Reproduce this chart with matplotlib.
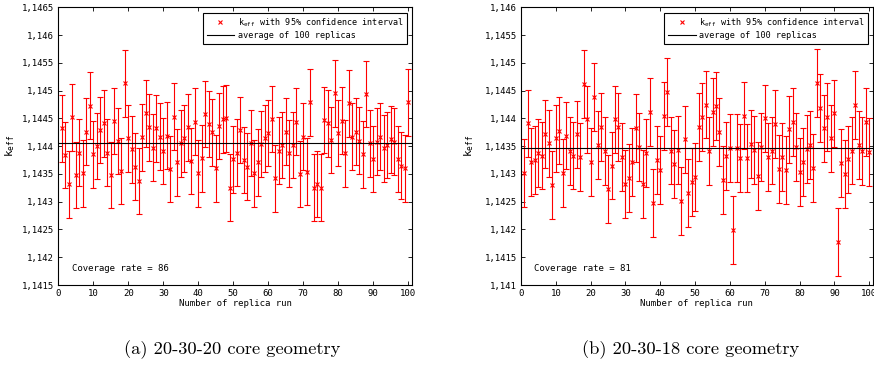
import matplotlib
matplotlib.use("Agg")
import matplotlib.pyplot as plt
from matplotlib.ticker import FuncFormatter, MultipleLocator
from matplotlib.lines import Line2D

# replica index
runs = list(range(1, 101))

# (a) 20-30-20 core geometry
keff_a = [1.14432, 1.14384, 1.14331, 1.14452, 1.14348, 1.14388, 1.14351, 1.14426, 1.14473, 1.14385,
          1.14400, 1.14429, 1.14441, 1.14388, 1.14348, 1.14445, 1.14409, 1.14355, 1.14513, 1.14414,
          1.14394, 1.14363, 1.14337, 1.14416, 1.14459, 1.14434, 1.14397, 1.14432, 1.14417, 1.14391,
          1.14419, 1.14359, 1.14453, 1.14371, 1.14405, 1.14414, 1.14434, 1.14373, 1.14444, 1.14351,
          1.14378, 1.14458, 1.14440, 1.14425, 1.14360, 1.14436, 1.14448, 1.14450, 1.14325, 1.14376,
          1.14388, 1.14429, 1.14375, 1.14363, 1.14406, 1.14351, 1.14371, 1.14404, 1.14414, 1.14424,
          1.14449, 1.14342, 1.14392, 1.14402, 1.14426, 1.14387, 1.14402, 1.14444, 1.14350, 1.14417,
          1.14354, 1.14479, 1.14325, 1.14332, 1.14325, 1.14447, 1.14441, 1.14411, 1.14495, 1.14424,
          1.14446, 1.14387, 1.14477, 1.14417, 1.14426, 1.14410, 1.14385, 1.14494, 1.14405, 1.14377,
          1.14408, 1.14417, 1.14396, 1.14402, 1.14412, 1.14408, 1.14377, 1.14365, 1.14360, 1.14479]
err_a = 0.0006
avg_a = 1.14406
cov_a = 86

# (b) 20-30-18 core geometry
keff_b = [1.14302, 1.14391, 1.14322, 1.14325, 1.14338, 1.14333, 1.14372, 1.14355, 1.14280, 1.14364,
          1.14378, 1.14301, 1.14369, 1.14341, 1.14333, 1.14371, 1.14331, 1.14462, 1.14398, 1.14321,
          1.14439, 1.14352, 1.14385, 1.14341, 1.14273, 1.14315, 1.14398, 1.14385, 1.14331, 1.14282,
          1.14292, 1.14322, 1.14383, 1.14349, 1.14282, 1.14337, 1.14412, 1.14247, 1.14325, 1.14307,
          1.14404, 1.14448, 1.14342, 1.14318, 1.14343, 1.14251, 1.14362, 1.14266, 1.14286, 1.14295,
          1.14384, 1.14402, 1.14425, 1.14341, 1.14412, 1.14422, 1.14375, 1.14289, 1.14332, 1.14346,
          1.14199, 1.14347, 1.14328, 1.14405, 1.14328, 1.14354, 1.14343, 1.14296, 1.14349, 1.14400,
          1.14331, 1.14342, 1.14390, 1.14309, 1.14330, 1.14307, 1.14380, 1.14393, 1.14348, 1.14303,
          1.14322, 1.14345, 1.14352, 1.14311, 1.14464, 1.14419, 1.14382, 1.14402, 1.14364, 1.14409,
          1.14178, 1.14319, 1.14300, 1.14326, 1.14342, 1.14424, 1.14352, 1.14341, 1.14393, 1.14339]
err_b = 0.00061
avg_b = 1.14347
cov_b = 81

mono = "DejaVu Sans Mono"
fs = 6.5
plt.rcParams["mathtext.fontset"] = "dejavusans"

fig = plt.figure(figsize=(8.74, 3.67), dpi=100)


def comma(v, pos):
    return ("%g" % round(v, 5)).replace(".", ",")


def panel(rect, keff, err, avg, cov, ylim, ylab_x):
    ax = fig.add_axes(rect)
    ax.errorbar(runs, keff, yerr=err, fmt="none", ecolor="red", elinewidth=0.8,
                capsize=2.3, capthick=0.8)
    ax.plot(runs, keff, "x", color="red", markersize=3, markeredgewidth=0.8)
    ax.axhline(avg, color="black", linewidth=0.8)
    ax.set_xlim(0, 101)
    ax.set_ylim(*ylim)
    ax.xaxis.set_major_locator(MultipleLocator(10))
    ax.yaxis.set_major_locator(MultipleLocator(0.0005))
    ax.yaxis.set_major_formatter(FuncFormatter(comma))
    ax.tick_params(direction="in", length=3, width=0.6, top=True, right=True,
                   labelsize=fs, pad=3)
    for lab in ax.get_xticklabels() + ax.get_yticklabels():
        lab.set_fontfamily(mono)
    for s in ax.spines.values():
        s.set_linewidth(0.8)
    ax.set_xlabel("Number of replica run", fontsize=fs, fontfamily=mono)
    ax.xaxis.set_label_coords(0.5, -0.05)
    ax.set_ylabel(r"$\mathtt{k_{eff}}$", fontsize=fs + 1.5)
    ax.yaxis.set_label_coords(ylab_x, 0.5)
    ax.text(0.038, 0.061, "Coverage rate = %d" % cov, transform=ax.transAxes,
            fontsize=fs, fontfamily=mono, va="center", ha="left")
    handles = [Line2D([], [], color="red", marker="x", linestyle="none",
                      markersize=3, markeredgewidth=0.8),
               Line2D([], [], color="black", linewidth=0.8)]
    labels = [r"$\mathtt{k_{eff}}$ with 95% confidence interval",
              "average of 100 replicas"]
    leg = ax.legend(handles, labels, loc="upper right", bbox_to_anchor=(0.987, 0.98),
                    borderaxespad=0, fancybox=False, edgecolor="black", framealpha=1,
                    prop={"family": mono, "size": 6.1}, handlelength=3.3,
                    handletextpad=0.4, labelspacing=0.3, borderpad=0.4)
    leg.get_frame().set_linewidth(0.8)
    return ax


panel([0.0667, 0.2234, 0.4043, 0.7567], keff_a, err_a, avg_a, cov_a,
      (1.1415, 1.1465), -0.118)
panel([0.5961, 0.2234, 0.4024, 0.7567], keff_b, err_b, avg_b, cov_b,
      (1.141, 1.146), -0.128)

fig.text(232 / 874, 0.046, "(a) 20-30-20 core geometry", ha="center", va="center",
         fontsize=13.3, fontfamily=["cmr10", "DejaVu Serif"])
fig.text(691 / 874, 0.046, "(b) 20-30-18 core geometry", ha="center", va="center",
         fontsize=13.3, fontfamily=["cmr10", "DejaVu Serif"])

fig.savefig("out.png", dpi=100)
